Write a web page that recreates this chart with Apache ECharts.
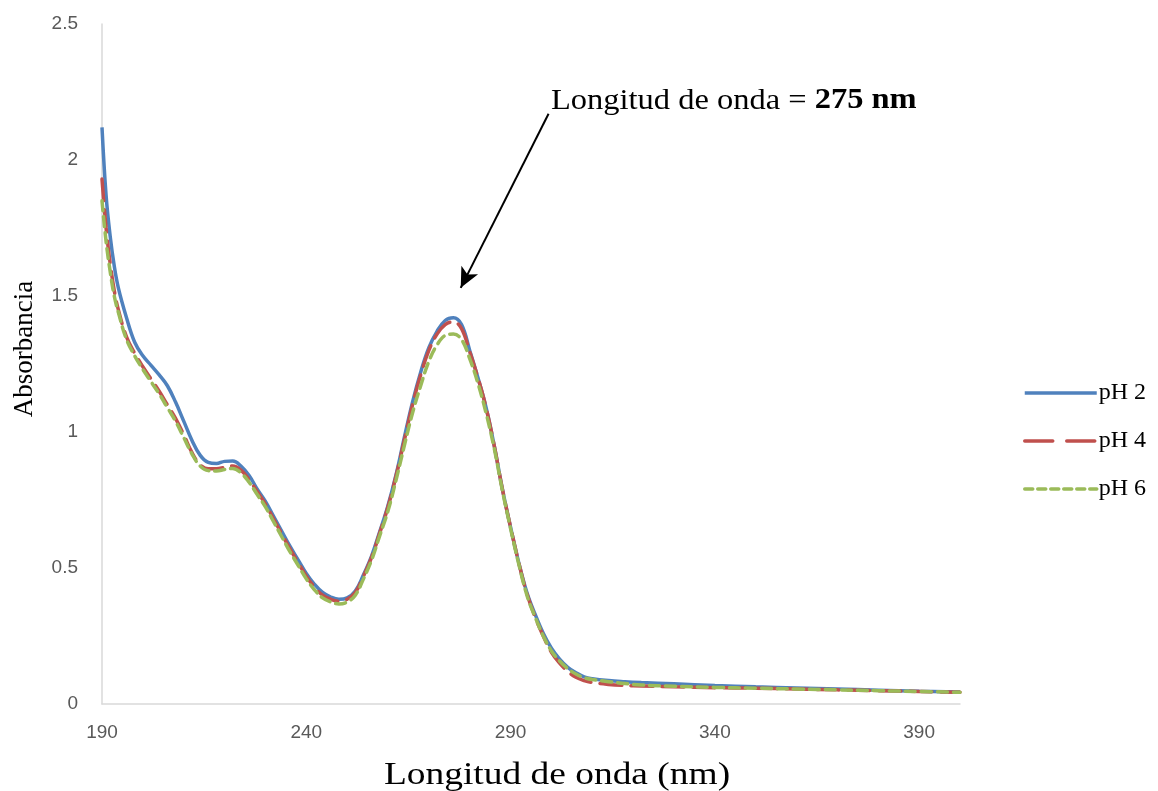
<!DOCTYPE html>
<html>
<head>
<meta charset="utf-8">
<script src="https://cdn.jsdelivr.net/npm/echarts@6/dist/echarts.min.js"></script>
<style>html,body{margin:0;padding:0;background:#fff;}#c{width:1158px;height:791px;}</style>
</head>
<body>
<div id="c"></div>
<script>
const wavelengths = [190,191,192,193,194,196,198,200,202,204,206,208,210,212,214,216,218,220,222,224,226,228,230,232,234,236,238,240,242,244,246,248,250,252,254,256,258,260,262,264,266,268,270,272,274,276,278,280,282,284,286,288,290,292,294,296,298,300,302,304,306,308,310,314,318,322,330,340,350,360,370,380,390,400];
const pH2 = [2.12,1.87,1.72,1.61,1.53,1.42,1.33,1.28,1.245,1.21,1.17,1.11,1.04,0.97,0.915,0.888,0.884,0.892,0.893,0.875,0.84,0.79,0.745,0.69,0.635,0.58,0.53,0.48,0.44,0.41,0.393,0.385,0.39,0.415,0.475,0.545,0.635,0.73,0.845,0.98,1.11,1.22,1.31,1.37,1.41,1.42,1.395,1.30,1.20,1.09,0.95,0.79,0.65,0.52,0.41,0.33,0.26,0.205,0.165,0.135,0.115,0.10,0.093,0.086,0.082,0.079,0.074,0.068,0.063,0.059,0.055,0.051,0.047,0.044];
const pH4 = [1.93,1.75,1.62,1.52,1.45,1.35,1.29,1.24,1.195,1.15,1.10,1.05,0.99,0.925,0.88,0.865,0.865,0.87,0.875,0.86,0.825,0.78,0.735,0.68,0.625,0.57,0.52,0.47,0.43,0.40,0.385,0.378,0.385,0.41,0.47,0.54,0.63,0.725,0.84,0.97,1.10,1.21,1.30,1.36,1.395,1.405,1.38,1.295,1.20,1.09,0.95,0.79,0.65,0.52,0.405,0.32,0.25,0.19,0.15,0.12,0.098,0.086,0.079,0.072,0.068,0.066,0.063,0.060,0.058,0.055,0.052,0.049,0.046,0.043];
const pH6 = [1.85,1.70,1.59,1.50,1.44,1.34,1.28,1.23,1.185,1.14,1.09,1.04,0.98,0.92,0.875,0.858,0.857,0.862,0.866,0.85,0.815,0.77,0.725,0.67,0.615,0.56,0.51,0.46,0.42,0.39,0.375,0.368,0.375,0.40,0.46,0.53,0.62,0.71,0.825,0.95,1.07,1.17,1.26,1.32,1.355,1.36,1.34,1.27,1.18,1.07,0.94,0.785,0.645,0.515,0.40,0.32,0.25,0.195,0.158,0.13,0.11,0.097,0.09,0.082,0.075,0.07,0.065,0.061,0.058,0.055,0.052,0.049,0.046,0.043];
const seriesNames = ['pH 2','pH 4','pH 6'];
const xTicks = {min:190, max:400, interval:50};
const yTicks = {min:0, max:2.5, interval:0.5};
const arrowFrom = [299.3, 2.17];
const arrowTo = [277.8, 1.53];

const pairs = arr => wavelengths.map((w,i)=>[w,arr[i]]);
const chart = echarts.init(document.getElementById('c'));
const serif = '"Liberation Serif","Times New Roman",serif';
const sans = '"Liberation Sans",Arial,sans-serif';
chart.setOption({
  animation:false,
  backgroundColor:'#fff',
  grid:{left:102,right:198,top:24,bottom:87,containLabel:false},
  xAxis:{type:'value',min:xTicks.min,max:xTicks.max,interval:xTicks.interval,
    axisLine:{show:true,lineStyle:{color:'#d9d9d9',width:1.5}},axisTick:{show:false},splitLine:{show:false},
    axisLabel:{color:'#595959',fontSize:19,fontFamily:sans,margin:19,showMaxLabel:false}},
  yAxis:{type:'value',min:yTicks.min,max:yTicks.max,interval:yTicks.interval,
    axisLine:{show:true,lineStyle:{color:'#d9d9d9',width:1.5}},axisTick:{show:false},splitLine:{show:false},
    axisLabel:{color:'#595959',fontSize:19,fontFamily:sans,margin:24}},
  legend:{orient:'vertical',left:1018,top:376,itemWidth:72,itemHeight:14,itemGap:24,
    itemStyle:{opacity:0},
    lineStyle:{width:3.5},
    textStyle:{color:'#000',fontSize:24,fontFamily:serif,padding:[0,0,0,-3]},
    data:[
      {name:seriesNames[0],lineStyle:{type:'solid'}},
      {name:seriesNames[1],lineStyle:{type:[28,14]}},
      {name:seriesNames[2],lineStyle:{type:[8,5]}}
    ]},
  graphic:[
    {type:'text',x:557,y:776,scaleX:1.17,style:{text:'Longitud de onda (nm)',font:'32px '+serif,fill:'#000',textAlign:'center',textVerticalAlign:'middle'}},
    {type:'text',x:25,y:349,rotation:Math.PI/2,style:{text:'Absorbancia',font:'27px '+serif,fill:'#000',textAlign:'center',textVerticalAlign:'middle'}},
    {type:'text',x:551,y:101,scaleX:1.12,style:{text:'Longitud de onda = {b|275 nm}',font:'29px '+serif,fill:'#000',textAlign:'left',textVerticalAlign:'middle',
      rich:{b:{fontWeight:'bold',fontSize:29,fontFamily:serif,fill:'#000'}}}}
  ],
  series:[
    {name:seriesNames[0],type:'line',data:pairs(pH2),smooth:0.4,showSymbol:false,symbol:'none',z:3,
      lineStyle:{color:'#4F81BD',width:3.5,type:'solid'},itemStyle:{color:'#4F81BD'},
      markLine:{silent:true,symbol:['none','arrow'],symbolSize:[14,20],animation:false,
        lineStyle:{color:'#000',width:2,type:'solid'},label:{show:false},
        data:[[{coord:arrowFrom},{coord:arrowTo}]]}},
    {name:seriesNames[1],type:'line',data:pairs(pH4),smooth:0.4,showSymbol:false,symbol:'none',z:4,
      lineStyle:{color:'#C0504D',width:3.5,type:[22,9],cap:'round'},itemStyle:{color:'#C0504D'}},
    {name:seriesNames[2],type:'line',data:pairs(pH6),smooth:0.4,showSymbol:false,symbol:'none',z:5,
      lineStyle:{color:'#9BBB59',width:3.5,type:[10,6],cap:'round'},itemStyle:{color:'#9BBB59'}}
  ]
});
</script>
</body>
</html>
